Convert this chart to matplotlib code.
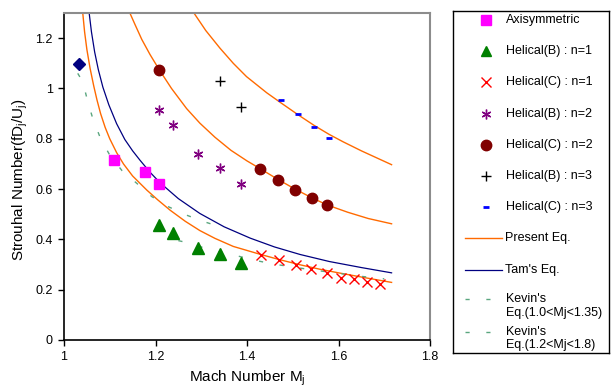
import matplotlib
matplotlib.use("Agg")
import matplotlib.pyplot as plt
from matplotlib.lines import Line2D

plt.rcParams['font.family'] = ['Liberation Sans', 'DejaVu Sans']

# measured points
axi_m = [1.109, 1.177, 1.208]
axi_st = [0.715, 0.667, 0.620]

hb1_m = [1.208, 1.238, 1.292, 1.342, 1.387]
hb1_st = [0.457, 0.424, 0.367, 0.340, 0.305]

hc1_m = [1.430, 1.469, 1.507, 1.540, 1.574, 1.605, 1.634, 1.662, 1.690]
hc1_st = [0.338, 0.318, 0.298, 0.281, 0.265, 0.248, 0.241, 0.229, 0.221]

hb2_m = [1.208, 1.239, 1.292, 1.342, 1.387]
hb2_st = [0.914, 0.853, 0.740, 0.685, 0.621]

hc2_m = [1.208, 1.428, 1.468, 1.505, 1.541, 1.575]
hc2_st = [1.075, 0.679, 0.636, 0.598, 0.565, 0.535]

hb3_m = [1.342, 1.387]
hb3_st = [1.028, 0.928]

hc3_m = [1.474, 1.512, 1.546, 1.579]
hc3_st = [0.955, 0.897, 0.846, 0.805]

dia_m = [1.033]
dia_st = [1.097]

# equation curves
pres1_m = [1.040, 1.041, 1.045, 1.050, 1.057, 1.065, 1.072, 1.080, 1.090, 1.100, 1.115, 1.130, 1.150,
           1.181, 1.205, 1.232, 1.265, 1.297, 1.330, 1.370, 1.430, 1.470, 1.516, 1.560, 1.600, 1.660, 1.716]
pres1_st = [1.32, 1.30, 1.225, 1.155, 1.080, 1.010, 0.955, 0.900, 0.845, 0.800, 0.745, 0.700, 0.652,
            0.596, 0.557, 0.516, 0.472, 0.435, 0.404, 0.372, 0.340, 0.320, 0.299, 0.281, 0.267, 0.247, 0.229]

pres2_m = [1.140, 1.144, 1.155, 1.170, 1.188, 1.208, 1.235, 1.268, 1.297, 1.330, 1.365, 1.400, 1.428,
           1.468, 1.505, 1.541, 1.575, 1.620, 1.665, 1.716]
pres2_st = [1.32, 1.30, 1.255, 1.195, 1.135, 1.075, 1.000, 0.920, 0.862, 0.806, 0.754, 0.712, 0.682,
            0.638, 0.600, 0.566, 0.537, 0.508, 0.483, 0.462]

pres3_m = [1.278, 1.284, 1.310, 1.341, 1.370, 1.399, 1.443, 1.474, 1.512, 1.546, 1.579, 1.610, 1.650, 1.716]
pres3_st = [1.32, 1.30, 1.230, 1.160, 1.100, 1.047, 0.983, 0.943, 0.895, 0.854, 0.818, 0.788, 0.752, 0.697]

tam_m = [1.053, 1.055, 1.060, 1.067, 1.075, 1.085, 1.098, 1.115, 1.133, 1.150, 1.166, 1.188, 1.210,
         1.250, 1.297, 1.350, 1.407, 1.460, 1.516, 1.580, 1.650, 1.716]
tam_st = [1.34, 1.30, 1.225, 1.145, 1.075, 1.005, 0.935, 0.860, 0.797, 0.752, 0.715, 0.667, 0.625,
          0.562, 0.503, 0.450, 0.405, 0.370, 0.340, 0.312, 0.288, 0.267]

kev1_m = [1.030, 1.041, 1.052, 1.064, 1.080, 1.100, 1.127, 1.159, 1.192, 1.228, 1.267, 1.305, 1.350]
kev1_st = [1.06, 1.027, 0.947, 0.874, 0.801, 0.735, 0.673, 0.623, 0.570, 0.530, 0.497, 0.471, 0.445]

kev2_m = [1.250, 1.277, 1.319, 1.363, 1.414, 1.458, 1.500, 1.550, 1.600, 1.650, 1.700]
kev2_st = [0.395, 0.384, 0.358, 0.342, 0.318, 0.302, 0.290, 0.277, 0.265, 0.253, 0.243]

xticks = [1, 1.2, 1.4, 1.6, 1.8]
yticks = [0, 0.2, 0.4, 0.6, 0.8, 1, 1.2]

orange = '#ff6a00'
navy = '#000080'
kev_col = '#5aa67f'

fig = plt.figure(figsize=(6.11, 3.92), dpi=100)
ax = fig.add_axes([64/611, 52/392, 366/611, 327/392])

ax.plot(pres1_m, pres1_st, color=orange, lw=1.0)
ax.plot(pres2_m, pres2_st, color=orange, lw=1.0)
ax.plot(pres3_m, pres3_st, color=orange, lw=1.0)
ax.plot(tam_m, tam_st, color=navy, lw=0.9)
ax.plot(kev1_m, kev1_st, color=kev_col, lw=1.0, dashes=(3, 12))
ax.plot(kev2_m, kev2_st, color=kev_col, lw=1.0, dashes=(3, 12))

ax.plot(axi_m, axi_st, 's', color='#ff00ff', ms=7.5, ls='none')
ax.plot(hb1_m, hb1_st, '^', color='#008000', ms=8, ls='none')
ax.plot(hc1_m, hc1_st, 'x', color='red', ms=6.5, mew=1, ls='none')
ax.plot(hb2_m, hb2_st, marker=(6, 2, 0), color='#800080', ms=7, mew=1, ls='none')
ax.plot(hc2_m, hc2_st, 'o', color='#800000', ms=7.5, ls='none')
ax.plot(hb3_m, hb3_st, '+', color='black', ms=6.5, mew=1, ls='none')
ax.plot(hc3_m, hc3_st, '_', color='blue', ms=4.5, mew=2, ls='none')
ax.plot(dia_m, dia_st, 'D', color=navy, ms=6.5, ls='none')

ax.set_xlim(1, 1.8)
ax.set_ylim(0, 1.3)
ax.set_xticks(xticks)
ax.set_yticks(yticks)
ax.set_xticklabels(['%g' % v for v in xticks])
ax.set_yticklabels(['%g' % v for v in yticks])
ax.tick_params(direction='out', length=4, width=1, labelsize=9, pad=4)
for s in ['left', 'bottom']:
    ax.spines[s].set_color('black')
    ax.spines[s].set_linewidth(1.2)
for s in ['top', 'right']:
    ax.spines[s].set_color('#8c8c8c')
    ax.spines[s].set_linewidth(1.5)

fig.text(247/611, 1 - 378/392, r'Mach Number M$_\mathregular{j}$', ha='center', va='center', fontsize=11)
fig.text(20/611, 1 - 180/392, r'Strouhal Number(fD$_\mathregular{j}$/U$_\mathregular{j}$)',
         ha='center', va='center', rotation=90, fontsize=11)

# legend box, built by hand to keep the Excel spacing
lax = fig.add_axes([453/611, 1 - 353/392, 156/611, 342/392])
lax.set_xlim(453, 609)
lax.set_ylim(353, 11)
lax.set_xticks([])
lax.set_yticks([])
for s in lax.spines.values():
    s.set_color('black')
    s.set_linewidth(1.0)

entries = [
    (dict(marker='s', color='#ff00ff', ms=7), 'Axisymmetric'),
    (dict(marker='^', color='#008000', ms=7.5), 'Helical(B) : n=1'),
    (dict(marker='x', color='red', ms=6.5, mew=1), 'Helical(C) : n=1'),
    (dict(marker=(6, 2, 0), color='#800080', ms=7, mew=1), 'Helical(B) : n=2'),
    (dict(marker='o', color='#800000', ms=7.5), 'Helical(C) : n=2'),
    (dict(marker='+', color='black', ms=6.5, mew=1), 'Helical(B) : n=3'),
    (dict(marker='_', color='blue', ms=4.5, mew=2), 'Helical(C) : n=3'),
]
row = 31.2
for i, (kw, label) in enumerate(entries):
    yc = 20 + row * i
    lax.add_line(Line2D([486], [yc], ls='none', **kw))
    lax.text(506, yc, label, va='center', ha='left', fontsize=9)

line_entries = [
    (dict(color=orange, lw=1.0), 'Present Eq.', 238.4),
    (dict(color=navy, lw=0.9), "Tam's Eq.", 269.6),
]
for kw, label, yc in line_entries:
    lax.add_line(Line2D([465, 502], [yc, yc], **kw))
    lax.text(505, yc, label, va='center', ha='left', fontsize=9)

kev_entries = [("Kevin's\nEq.(1.0<Mj<1.35)", 306), ("Kevin's\nEq.(1.2<Mj<1.8)", 338.5)]
for label, yc in kev_entries:
    lax.add_line(Line2D([465, 503], [yc - 7, yc - 7], color=kev_col, lw=1.0, dashes=(3, 12)))
    lax.text(506, yc, label, va='center', ha='left', fontsize=9, linespacing=1.15)

fig.savefig('out.png', dpi=100)
